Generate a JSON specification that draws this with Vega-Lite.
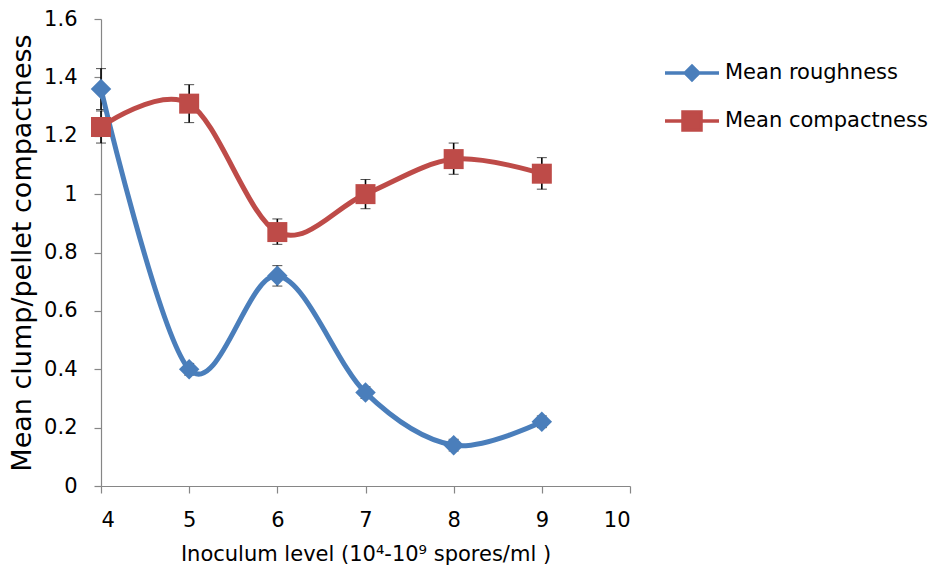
{
  "$schema": "https://vega.github.io/schema/vega-lite/v6.json",
  "width": 529,
  "height": 467,
  "autosize": {"type": "none"},
  "padding": {"left": 101, "top": 19, "right": 305, "bottom": 91},
  "background": "white",
  "config": {
    "view": {"stroke": null},
    "font": "DejaVu Sans",
    "axis": {
      "grid": false,
      "domainColor": "#868686",
      "tickColor": "#868686",
      "domainWidth": 1.2,
      "tickWidth": 1.2,
      "tickSize": 7,
      "labelFont": "DejaVu Sans",
      "labelFontSize": 21,
      "labelColor": "#000000",
      "titleFont": "DejaVu Sans",
      "titleFontSize": 21,
      "titleFontWeight": "normal",
      "titleColor": "#000000"
    },
    "legend": {
      "title": null,
      "orient": "none",
      "legendX": 580,
      "legendY": 43,
      "labelFont": "DejaVu Sans",
      "labelFontSize": 21,
      "labelColor": "#000000",
      "labelLimit": 0,
      "labelOffset": 22,
      "rowPadding": 18,
      "symbolSize": 324,
      "symbolStrokeWidth": 3.5
    }
  },
  "data": {
    "values": [
      {"series": "Mean roughness", "x": 4, "y": 1.36, "lo": 1.29, "hi": 1.43},
      {"series": "Mean roughness", "x": 5, "y": 0.40, "lo": 0.38, "hi": 0.42},
      {"series": "Mean roughness", "x": 6, "y": 0.72, "lo": 0.685, "hi": 0.755},
      {"series": "Mean roughness", "x": 7, "y": 0.32, "lo": 0.30, "hi": 0.34},
      {"series": "Mean roughness", "x": 8, "y": 0.14, "lo": 0.12, "hi": 0.16},
      {"series": "Mean roughness", "x": 9, "y": 0.22, "lo": 0.20, "hi": 0.24},
      {"series": "Mean compactness", "x": 4, "y": 1.23, "lo": 1.175, "hi": 1.285},
      {"series": "Mean compactness", "x": 5, "y": 1.31, "lo": 1.245, "hi": 1.375},
      {"series": "Mean compactness", "x": 6, "y": 0.87, "lo": 0.828, "hi": 0.915},
      {"series": "Mean compactness", "x": 7, "y": 1.00, "lo": 0.95, "hi": 1.05},
      {"series": "Mean compactness", "x": 8, "y": 1.12, "lo": 1.068, "hi": 1.175},
      {"series": "Mean compactness", "x": 9, "y": 1.07, "lo": 1.017, "hi": 1.125}
    ]
  },
  "encoding": {
    "x": {
      "field": "x",
      "type": "quantitative",
      "scale": {"domain": [4, 10], "nice": false, "zero": false},
      "axis": {
        "values": [4, 5, 6, 7, 8, 9, 10],
        "title": "Inoculum level (10⁴-10⁹ spores/ml )",
        "labelPadding": 16,
        "titlePadding": 13
      }
    }
  },
  "layer": [
    {
      "mark": {"type": "errorbar", "ticks": {"size": 10, "color": "black", "strokeWidth": 1.6}, "rule": {"color": "black", "strokeWidth": 1.6}},
      "encoding": {
        "y": {"field": "lo", "type": "quantitative", "title": "Mean clump/pellet compactness"},
        "y2": {"field": "hi"}
      }
    },
    {
      "mark": {"type": "line", "interpolate": "cardinal", "strokeWidth": 5},
      "encoding": {
        "y": {
          "field": "y",
          "type": "quantitative",
          "scale": {"domain": [0, 1.6], "nice": false},
          "axis": {
            "values": [0, 0.2, 0.4, 0.6, 0.8, 1, 1.2, 1.4, 1.6],
            "format": "~g",
            "title": "Mean clump/pellet compactness",
            "titleFontSize": 27,
            "labelPadding": 17,
            "titlePadding": 7
          }
        },
        "color": {
          "field": "series",
          "type": "nominal",
          "scale": {"domain": ["Mean roughness", "Mean compactness"], "range": ["#4A7EBB", "#BE4B48"]},
          "legend": {
            "encode": {
              "symbols": {
                "update": {
                  "shape": {"signal": "datum.value === 'Mean roughness' ? 'M-3,0L-0.75,0M0.75,0L3,0M-0.75,0L0,-0.75L0.75,0L0,0.75Z' : 'M-3,0L-1,0M1,0L3,0M-1,-1L1,-1L1,1L-1,1Z'"},
                  "fill": {"scale": "color", "field": "value"},
                  "stroke": {"scale": "color", "field": "value"},
                  "strokeWidth": {"value": 3.5},
                  "opacity": {"value": 1},
                  "fillOpacity": {"value": 1}
                }
              }
            }
          }
        },
        "detail": {"field": "series"}
      }
    },
    {
      "transform": [{"filter": "datum.series === 'Mean roughness'"}],
      "mark": {"type": "point", "filled": true, "opacity": 1, "shape": "diamond", "size": 420, "color": "#4A7EBB"},
      "encoding": {
        "y": {"field": "y", "type": "quantitative"}
      }
    },
    {
      "transform": [{"filter": "datum.series === 'Mean compactness'"}],
      "mark": {"type": "point", "filled": true, "opacity": 1, "shape": "square", "size": 400, "color": "#BE4B48"},
      "encoding": {
        "y": {"field": "y", "type": "quantitative"}
      }
    }
  ]
}
